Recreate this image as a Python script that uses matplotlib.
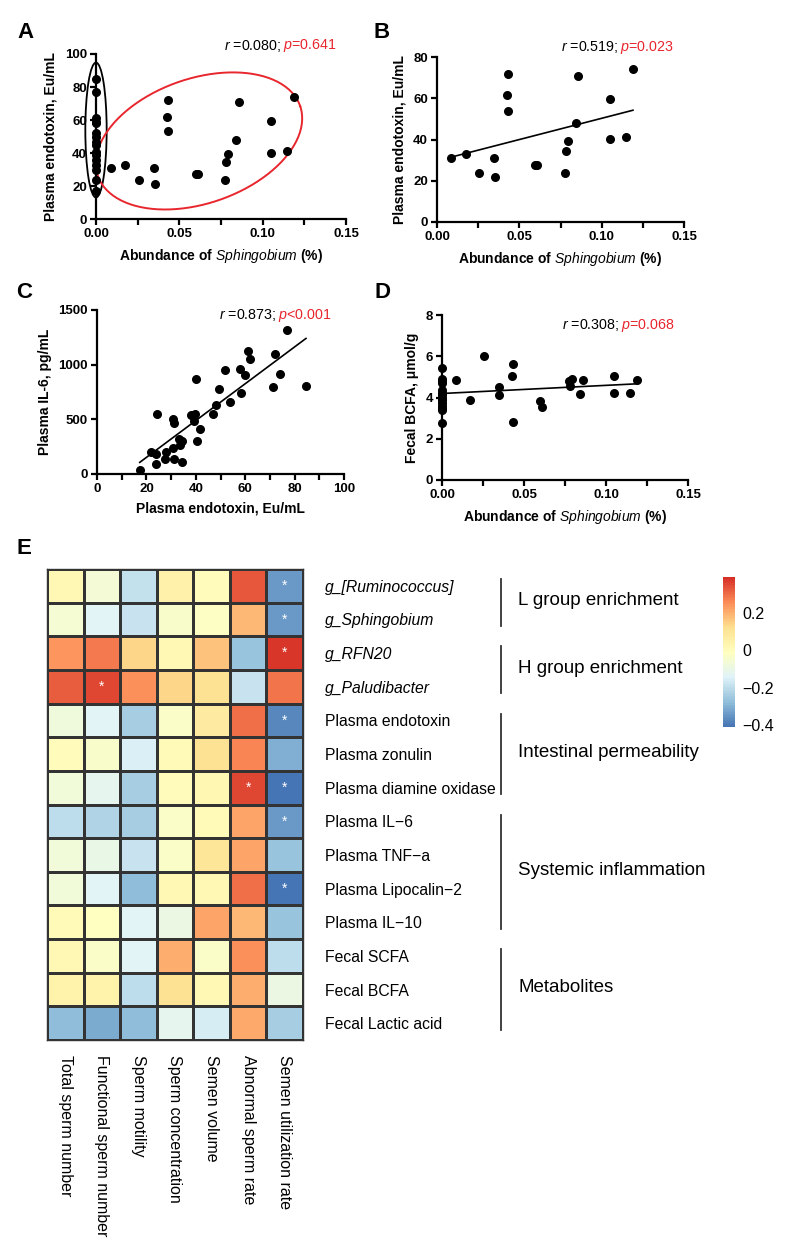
import numpy as np
import matplotlib
matplotlib.use("Agg")
import matplotlib.pyplot as plt
from matplotlib.colors import LinearSegmentedColormap
from matplotlib.ticker import MultipleLocator, FormatStrFormatter
from matplotlib.patches import Ellipse

plt.rcParams['font.family'] = ['Liberation Sans', 'DejaVu Sans']
plt.rcParams['mathtext.fontset'] = 'custom'
plt.rcParams['mathtext.rm'] = 'Liberation Sans'
plt.rcParams['mathtext.it'] = 'Liberation Sans:italic'
plt.rcParams['mathtext.bf'] = 'Liberation Sans:bold'
plt.rcParams['mathtext.bfit'] = 'Liberation Sans:bold:italic'

# ---- data: panels A/B (Sphingobium vs plasma endotoxin)
sph_zero_endo = [85, 77, 61, 59, 58, 52, 50, 47, 45, 41, 39, 36, 33, 30, 24, 17]
sph_x = [0.0087, 0.0174, 0.0255, 0.0346, 0.0352, 0.0425, 0.0431, 0.0433, 0.0597, 0.0609,
         0.0775, 0.0781, 0.0794, 0.0842, 0.0858, 0.1049, 0.1049, 0.1148, 0.1190]
endo_y = [31.2, 32.9, 23.9, 31.2, 21.6, 61.8, 72.0, 53.7, 27.4, 27.7,
          24.0, 34.4, 39.3, 48.0, 70.9, 59.6, 40.1, 41.4, 74.0]

# ---- panel C (endotoxin vs IL-6)
c_x = [17.3, 21.8, 23.9, 23.9, 24.3, 27.9, 27.5, 30.6, 30.6, 31.3, 31.3, 33.3, 33.8, 34.4,
       34.6, 38.1, 39.5, 39.4, 40.2, 40.6, 41.5, 46.8, 48.0, 49.5, 51.9, 53.9, 57.8, 58.3,
       59.8, 61.0, 61.9, 71.2, 72.1, 74.1, 77.0, 84.6]
c_y = [40, 198, 94, 186, 545, 201, 134, 240, 502, 465, 140, 316, 262, 298,
       113, 538, 551, 481, 873, 304, 408, 545, 633, 779, 949, 660, 961, 745,
       910, 1126, 1053, 794, 1101, 919, 1314, 803]

# ---- panel D (Sphingobium vs fecal BCFA)
d_x = [0, 0, 0, 0, 0, 0, 0, 0, 0, 0, 0, 0, 0, 0,
       0.0087, 0.0172, 0.0257, 0.0345, 0.0349, 0.0426, 0.0434, 0.0434, 0.0600, 0.0608,
       0.0774, 0.0782, 0.0793, 0.0857, 0.0839, 0.1048, 0.1048, 0.1145, 0.1188]
d_y = [5.42, 4.9, 4.8, 4.7, 4.35, 4.2, 4.1, 4.0, 3.9, 3.75, 3.6, 3.5, 3.4, 2.75,
       4.87, 3.90, 6.02, 4.50, 4.10, 5.05, 5.62, 2.83, 3.84, 3.53,
       4.81, 4.55, 4.89, 4.84, 4.16, 5.05, 4.21, 4.24, 4.83]

# ---- panel E heatmap
row_labels = ["g_[Ruminococcus]", "g_Sphingobium", "g_RFN20", "g_Paludibacter",
              "Plasma endotoxin", "Plasma zonulin", "Plasma diamine oxidase",
              "Plasma IL\u22126", "Plasma TNF\u2212a", "Plasma Lipocalin\u22122", "Plasma IL\u221210",
              "Fecal SCFA", "Fecal BCFA", "Fecal Lactic acid"]
col_labels = ["Total sperm number", "Functional sperm number", "Sperm motility",
              "Sperm concentration", "Semen volume", "Abnormal sperm rate",
              "Semen utilization rate"]
corr = np.array([
    [0.02, -0.06, -0.19, 0.05, 0.00, 0.33, -0.34],
    [-0.05, -0.13, -0.18, -0.04, -0.02, 0.19, -0.34],
    [0.24, 0.28, 0.14, 0.02, 0.17, -0.26, 0.38],
    [0.32, 0.35, 0.25, 0.14, 0.11, -0.18, 0.29],
    [-0.08, -0.13, -0.24, -0.03, 0.07, 0.30, -0.37],
    [0.00, -0.04, -0.15, 0.01, 0.11, 0.27, -0.30],
    [-0.07, -0.12, -0.24, 0.00, 0.03, 0.35, -0.41],
    [-0.20, -0.22, -0.24, -0.03, 0.01, 0.22, -0.34],
    [-0.07, -0.10, -0.18, -0.03, 0.10, 0.22, -0.26],
    [-0.07, -0.13, -0.28, 0.02, 0.02, 0.30, -0.41],
    [0.01, -0.01, -0.13, -0.09, 0.22, 0.19, -0.26],
    [0.02, -0.03, -0.13, 0.20, -0.03, 0.25, -0.20],
    [0.04, 0.04, -0.20, 0.11, 0.02, 0.20, -0.09],
    [-0.28, -0.31, -0.28, -0.12, -0.16, 0.21, -0.24],
])
sig_cells = [(0, 6), (1, 6), (2, 6), (3, 1), (4, 6), (6, 5), (6, 6), (7, 6), (9, 6)]
groups = [("L group enrichment", 0, 2), ("H group enrichment", 2, 4),
          ("Intestinal permeability", 4, 7), ("Systemic inflammation", 7, 11),
          ("Metabolites", 11, 14)]

W, H = 788, 1252
fig = plt.figure(figsize=(W / 100, H / 100), dpi=100)


def px_axes(x0, y0, x1, y1):
    return fig.add_axes([x0 / W, 1 - y1 / H, (x1 - x0) / W, (y1 - y0) / H])


def style(ax):
    for s in ['top', 'right']:
        ax.spines[s].set_visible(False)
    for s in ['left', 'bottom']:
        ax.spines[s].set_linewidth(1.6)
    ax.tick_params(which='both', direction='out', width=1.6, length=4.5, labelsize=9.5, pad=2)
    for t in ax.get_xticklabels() + ax.get_yticklabels():
        t.set_fontweight('bold')


def stat_text(xp, yp, rtxt, ptxt):
    fig.text(xp / W, 1 - yp / H, r"$\it{r}$ =" + rtxt + "; ", ha='right', va='center', fontsize=10.3)
    fig.text(xp / W, 1 - yp / H, r"$\it{p}$" + ptxt, ha='left', va='center', fontsize=10.3, color='#e8262d')


sph_label = r"Abundance of $\bf{\it{Sphingobium}}$ (%)"

# ---- A
axA = px_axes(96, 54, 346, 219.3)
axA.scatter(np.zeros(len(sph_zero_endo)), sph_zero_endo, s=30, color='black', clip_on=False, zorder=3)
axA.scatter(sph_x, endo_y, s=30, color='black', clip_on=False, zorder=3)
axA.set_xlim(0, 0.15)
axA.set_ylim(0, 100)
axA.xaxis.set_major_locator(MultipleLocator(0.05))
axA.xaxis.set_minor_locator(MultipleLocator(0.025))
axA.yaxis.set_major_locator(MultipleLocator(20))
axA.xaxis.set_major_formatter(FormatStrFormatter('%.2f'))
axA.set_xlabel(sph_label, fontsize=10, fontweight='bold', labelpad=5)
axA.set_ylabel("Plasma endotoxin, Eu/mL", fontsize=10, fontweight='bold', labelpad=5)
style(axA)
axA.add_patch(Ellipse((0, 54), 0.0128, 81.6, fill=False, edgecolor='black', lw=1.3, clip_on=False))
t = np.linspace(0, 2 * np.pi, 200)
axA.plot(0.0618 + 0.0607 * np.cos(t) - 0.0122 * np.sin(t),
         47.4 + 21.1 * np.cos(t) + 35.7 * np.sin(t), color='#e8262d', lw=1.4, clip_on=False)
stat_text(283, 46, "0.080", "=0.641")

# ---- B
axB = px_axes(437, 57, 684, 222)
axB.scatter(sph_x, endo_y, s=30, color='black', clip_on=False, zorder=3)
k, b = np.polyfit(sph_x, endo_y, 1)
xx = np.array([min(sph_x), max(sph_x)])
axB.plot(xx, k * xx + b, color='black', lw=1.2)
axB.set_xlim(0, 0.15)
axB.set_ylim(0, 80)
axB.xaxis.set_major_locator(MultipleLocator(0.05))
axB.xaxis.set_minor_locator(MultipleLocator(0.025))
axB.yaxis.set_major_locator(MultipleLocator(20))
axB.xaxis.set_major_formatter(FormatStrFormatter('%.2f'))
axB.set_xlabel(sph_label, fontsize=10, fontweight='bold', labelpad=5)
axB.set_ylabel("Plasma endotoxin, Eu/mL", fontsize=10, fontweight='bold', labelpad=5)
style(axB)
stat_text(620, 47, "0.519", "=0.023")

# ---- C
axC = px_axes(97, 310, 344, 474)
axC.scatter(c_x, c_y, s=30, color='black', clip_on=False, zorder=3)
k, b = np.polyfit(c_x, c_y, 1)
xx = np.array([min(c_x), max(c_x)])
axC.plot(xx, k * xx + b, color='black', lw=1.2)
axC.set_xlim(0, 100)
axC.set_ylim(0, 1500)
axC.xaxis.set_major_locator(MultipleLocator(20))
axC.xaxis.set_minor_locator(MultipleLocator(10))
axC.yaxis.set_major_locator(MultipleLocator(500))
axC.set_xlabel("Plasma endotoxin, Eu/mL", fontsize=10, fontweight='bold', labelpad=5)
axC.set_ylabel("Plasma IL-6, pg/mL", fontsize=10, fontweight='bold', labelpad=5)
style(axC)
stat_text(278, 315, "0.873", "<0.001")

# ---- D
axD = px_axes(442, 315, 688, 480)
axD.scatter(d_x, d_y, s=30, color='black', clip_on=False, zorder=3)
k, b = np.polyfit(d_x, d_y, 1)
xx = np.array([min(d_x), max(d_x)])
axD.plot(xx, k * xx + b, color='black', lw=1.2)
axD.set_xlim(0, 0.15)
axD.set_ylim(0, 8)
axD.xaxis.set_major_locator(MultipleLocator(0.05))
axD.xaxis.set_minor_locator(MultipleLocator(0.025))
axD.yaxis.set_major_locator(MultipleLocator(2))
axD.xaxis.set_major_formatter(FormatStrFormatter('%.2f'))
axD.set_xlabel(sph_label, fontsize=10, fontweight='bold', labelpad=5)
axD.set_ylabel("Fecal BCFA, \u03bcmol/g", fontsize=10, fontweight='bold', labelpad=5)
style(axD)
stat_text(621, 325, "0.308", "=0.068")

# ---- E heatmap
colors = ["#4575B4", "#91BFDB", "#E0F3F8", "#FFFFBF", "#FEE090", "#FC8D59", "#D73027"]
cmap = LinearSegmentedColormap.from_list("rdylbu_r", colors, N=100)
vmin, vmax = -0.41, 0.39
axE = px_axes(47, 569, 303, 1040)
im = axE.pcolormesh(corr, cmap=cmap, vmin=vmin, vmax=vmax, edgecolors='#333333', linewidth=0.9)
axE.set_xlim(0, corr.shape[1])
axE.set_ylim(corr.shape[0], 0)
for s in axE.spines.values():
    s.set_edgecolor('#333333')
    s.set_linewidth(1.0)
for (r, c) in sig_cells:
    axE.text(c + 0.5, r + 0.5, "*", ha='center', va='center', color='white', fontsize=10)
axE.set_xticks(np.arange(corr.shape[1]) + 0.5)
axE.set_xticklabels(col_labels, rotation=270, fontsize=11.5, va='top', ha='center')
axE.set_yticks(np.arange(corr.shape[0]) + 0.5)
axE.set_yticklabels(row_labels, fontsize=11.3)
axE.yaxis.tick_right()
axE.tick_params(length=0)
axE.tick_params(axis='y', pad=15.5)
axE.tick_params(axis='x', pad=11)
for i, lab in enumerate(axE.get_yticklabels()):
    if i < 4:
        lab.set_fontstyle('italic')

for name, r0, r1 in groups:
    axE.plot([12.41, 12.41], [r0 + 0.3, r1 - 0.3], color='#333333', lw=1.3, clip_on=False)
    axE.text(12.88, (r0 + r1) / 2 - 0.05, name, fontsize=13.5, va='center', ha='left')

axCB = px_axes(723, 577, 735, 727)
cb = fig.colorbar(im, cax=axCB)
cb.outline.set_visible(False)
cb.set_ticks([-0.4, -0.2, 0, 0.2])
cb.set_ticklabels(["\u22120.4", "\u22120.2", "0", "0.2"])
cb.ax.tick_params(length=0, labelsize=11.5, pad=5)

# panel letters
for letter, xp, yp in [("A", 25, 33), ("B", 382, 33), ("C", 24, 292), ("D", 382, 292), ("E", 24, 548)]:
    fig.text(xp / W, 1 - yp / H, letter, fontsize=16, fontweight='bold', ha='center', va='center')

fig.savefig("out.png", dpi=100)
